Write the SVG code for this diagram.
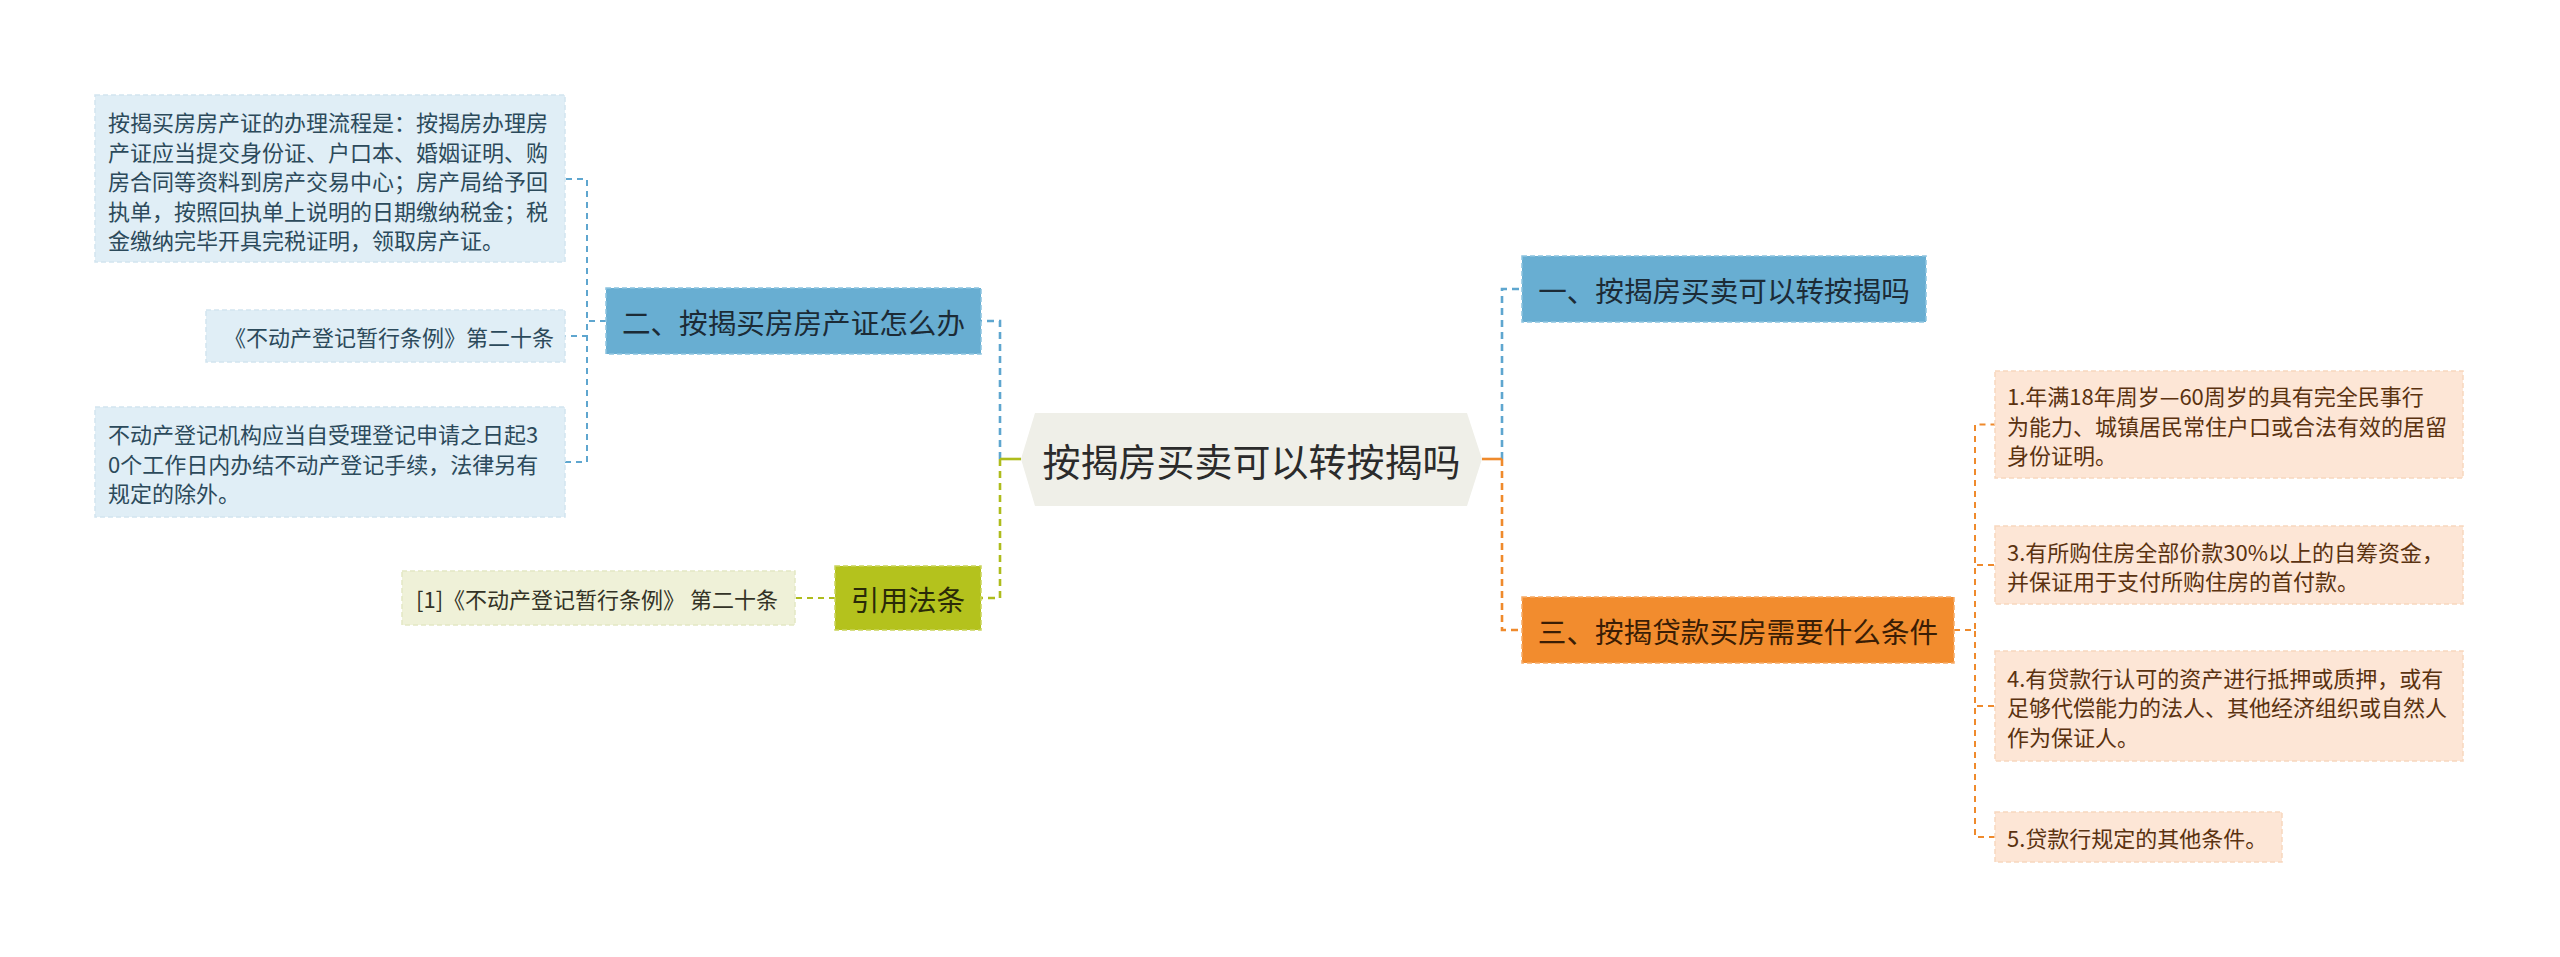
<svg xmlns="http://www.w3.org/2000/svg" width="2560" height="957" viewBox="0 0 2560 957">
<style>
text{font-family:"Noto Sans CJK SC","Noto Sans",sans-serif;dominant-baseline:central}
.c{fill:none;stroke-width:2.6;stroke-dasharray:7 5}
.cl{fill:none;stroke-width:2;stroke-dasharray:6 5}
.blue{stroke:#5ea6cf}
.orange{stroke:#ef8a2c}
.green{stroke:#aebc1c}
.nb{fill:#68aed2;stroke:#8cc3df;stroke-width:1.5;stroke-dasharray:5 3}
.no{fill:#f28c2e;stroke:#f6ab66;stroke-width:1.5;stroke-dasharray:5 3}
.ng{fill:#b4c21d;stroke:#c9d45a;stroke-width:1.5;stroke-dasharray:5 3}
.lb{fill:#e0eef6;stroke:#d2e5f0;stroke-width:1.5;stroke-dasharray:5 3}
.lo{fill:#fde6d6;stroke:#f8d7bf;stroke-width:1.5;stroke-dasharray:5 3}
.lg{fill:#eff1d8;stroke:#e4e8c4;stroke-width:1.5;stroke-dasharray:5 3}
.tb{font-size:22px;fill:#2c4a5b}
.to{font-size:22px;fill:#5a3210}
.tg{font-size:22px;fill:#333326}
.tn{font-size:28.6px;text-anchor:middle}
</style>
<rect width="2560" height="957" fill="#ffffff"/>
<g id="connectors">
<path class="c blue" d="M1000,459 V321 H981"/>
<path class="c green" d="M1000,459 V598 H981"/>
<path d="M1021,459 H1000" stroke="#aebc1c" stroke-width="2.6" fill="none"/>
<path class="c blue" d="M1502,459 V289 H1522"/>
<path class="c orange" d="M1502,459 V630 H1522"/>
<path d="M1482,459 H1502" stroke="#ef8a2c" stroke-width="2.6" fill="none"/>
<path class="cl blue" d="M606,321 H587 V179 H565"/>
<path class="cl blue" d="M606,321 H587 V336 H565"/>
<path class="cl blue" d="M606,321 H587 V462 H565"/>
<path class="cl green" d="M835,598 H795"/>
<path class="cl orange" d="M1954,630 H1975 V424.5 H1995"/>
<path class="cl orange" d="M1954,630 H1975 V565 H1995"/>
<path class="cl orange" d="M1954,630 H1975 V706 H1995"/>
<path class="cl orange" d="M1954,630 H1975 V837 H1995"/>
</g>
<g id="central">
<polygon points="1021,459 1035,413 1467,413 1482,459 1467,506 1035,506" fill="#efefe8"/>
<text x="1251.5" y="459" font-size="38" text-anchor="middle" fill="#2b2b2b">按揭房买卖可以转按揭吗</text>
</g>
<g id="node-1">
<rect class="nb" x="1522" y="256" width="404" height="66"/>
<text class="tn" x="1724" y="289" fill="#1c2b36">一、按揭房买卖可以转按揭吗</text>
</g>
<g id="node-3">
<rect class="no" x="1522" y="597" width="432" height="66"/>
<text class="tn" x="1738" y="630" fill="#3a1d05">三、按揭贷款买房需要什么条件</text>
</g>
<g id="node-2">
<rect class="nb" x="606" y="288" width="375" height="66"/>
<text class="tn" x="793.5" y="321" fill="#1c2b36">二、按揭买房房产证怎么办</text>
</g>
<g id="node-cite">
<rect class="ng" x="835" y="566" width="146" height="64"/>
<text class="tn" x="908" y="598" fill="#2a2a08">引用法条</text>
</g>
<g id="leaf-a">
<rect class="lb" x="95" y="95" width="470" height="167"/>
<text class="tb" x="108" y="121">按揭买房房产证的办理流程是：按揭房办理房</text>
<text class="tb" x="108" y="150.5">产证应当提交身份证、户口本、婚姻证明、购</text>
<text class="tb" x="108" y="180">房合同等资料到房产交易中心；房产局给予回</text>
<text class="tb" x="108" y="209.5">执单，按照回执单上说明的日期缴纳税金；税</text>
<text class="tb" x="108" y="239">金缴纳完毕开具完税证明，领取房产证。</text>
</g>
<g id="leaf-b">
<rect class="lb" x="206" y="310" width="359" height="52"/>
<text class="tb" x="224" y="336">《不动产登记暂行条例》第二十条</text>
</g>
<g id="leaf-c">
<rect class="lb" x="95" y="407" width="470" height="110"/>
<text class="tb" x="108" y="433">不动产登记机构应当自受理登记申请之日起3</text>
<text class="tb" x="108" y="462.5">0个工作日内办结不动产登记手续，法律另有</text>
<text class="tb" x="108" y="492">规定的除外。</text>
</g>
<g id="leaf-d">
<rect class="lg" x="402" y="571" width="393" height="54"/>
<text class="tg" x="416" y="598">[1]《不动产登记暂行条例》 第二十条</text>
</g>
<g id="leaf-1">
<rect class="lo" x="1995" y="371" width="468" height="107"/>
<text class="to" x="2007" y="395">1.年满18年周岁—60周岁的具有完全民事行</text>
<text class="to" x="2007" y="424.5">为能力、城镇居民常住户口或合法有效的居留</text>
<text class="to" x="2007" y="454">身份证明。</text>
</g>
<g id="leaf-3">
<rect class="lo" x="1995" y="526" width="468" height="78"/>
<text class="to" x="2007" y="550.5">3.有所购住房全部价款30%以上的自筹资金，</text>
<text class="to" x="2007" y="580">并保证用于支付所购住房的首付款。</text>
</g>
<g id="leaf-4">
<rect class="lo" x="1995" y="651" width="468" height="110"/>
<text class="to" x="2007" y="676.5">4.有贷款行认可的资产进行抵押或质押，或有</text>
<text class="to" x="2007" y="706">足够代偿能力的法人、其他经济组织或自然人</text>
<text class="to" x="2007" y="735.5">作为保证人。</text>
</g>
<g id="leaf-5">
<rect class="lo" x="1995" y="812" width="287" height="50"/>
<text class="to" x="2007" y="837">5.贷款行规定的其他条件。</text>
</g>
</svg>
